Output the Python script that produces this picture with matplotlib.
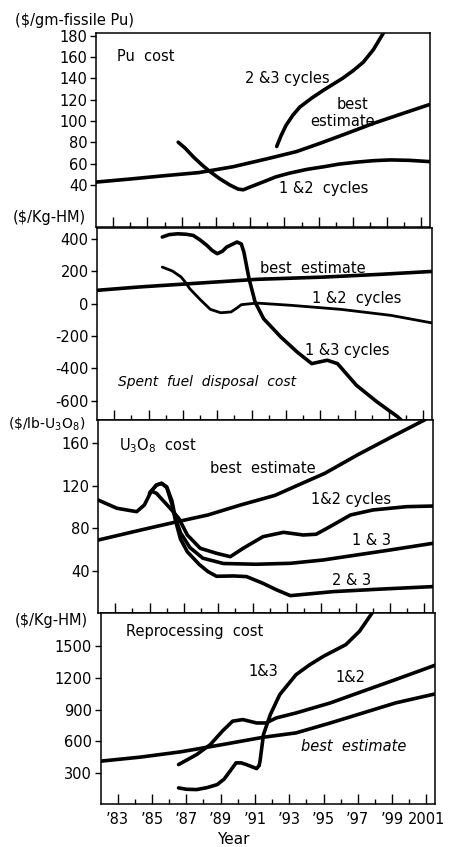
import matplotlib
matplotlib.use("Agg")
import matplotlib.pyplot as plt
import numpy as np

plt.rcParams['font.family'] = ['DejaVu Sans']

# ---------------- data ----------------
# Panel 1: Pu cost ($/gm-fissile Pu)
pu_best_x = [1982, 1984, 1986, 1988, 1990, 1992, 1993.7, 1995, 1996.4, 1998.2, 2000.1, 2001.5]
pu_best_y = [42.6, 45.5, 48.6, 51.5, 57, 64.5, 71.2, 78.5, 86.8, 97.7, 108, 115.5]
pu_12_x = [1986.8, 1987.2, 1987.7, 1988.2, 1988.65, 1989.2, 1989.8, 1990.3, 1990.6, 1991.0, 1991.8,
           1992.5, 1993.3, 1994.3, 1995.3, 1996.2, 1997.2, 1998.2, 1999.2, 2000.3, 2001.5]
pu_12_y = [80, 74.5, 66, 58.5, 52.5, 46, 40, 36, 35.4, 38, 43,
           47.5, 51, 54.5, 57, 59.5, 61.3, 62.7, 63.4, 63, 61.8]
pu_23_x = [1992.55, 1992.8, 1993.1, 1993.5, 1993.9, 1994.6, 1995.3, 1996.4, 1997.0, 1997.6, 1998.2, 1998.8]
pu_23_y = [76, 86, 96, 105.5, 113, 121.5, 129, 140, 147, 155, 167, 183]

# Panel 2: Spent fuel disposal cost ($/Kg-HM)
sf_best_x = [1982, 1984.5, 1987.4, 1991.3, 1995.2, 1998.5, 2001.5]
sf_best_y = [83, 104, 124, 151, 165, 182, 200]
sf_12_x = [1985.8, 1986.4, 1986.9, 1987.15, 1987.4, 1988.05, 1988.6, 1989.2, 1989.8, 1990.1, 1990.4,
           1991.3, 1993.3, 1996.2, 1999.1, 2001.5]
sf_12_y = [227, 202, 165, 132, 93, 21, -35, -56, -51, -30, -6,
           4, -10, -35, -72, -119]
sf_13_x = [1985.8, 1986.2, 1986.7, 1987.2, 1987.6, 1988.0, 1988.4, 1988.7, 1989.0, 1989.3, 1989.55,
           1990.15, 1990.4, 1990.55, 1990.85, 1991.2, 1991.7, 1992.7, 1993.65, 1994.5, 1995.4, 1996.0,
           1997.1, 1998.3, 1999.5, 1999.8]
sf_13_y = [413, 428, 433, 430, 423, 395, 361, 330, 310, 325, 351,
           382, 370, 320, 155, 11, -93, -206, -299, -371, -350, -371,
           -505, -608, -700, -730]

# Panel 3: U3O8 cost ($/lb-U3O8)
u_best_x = [1982, 1984.5, 1986.45, 1988.4, 1990.3, 1992.3, 1993.65, 1995.2, 1997.1, 1999.1, 2001.0, 2001.3]
u_best_y = [69, 78.5, 85.7, 92.6, 102, 111, 120.7, 131.7, 149, 166, 181.8, 186]
u_12_x = [1982, 1983.1, 1984.25, 1984.7, 1985.1, 1985.4, 1986.2, 1986.7, 1987.2, 1987.95, 1988.9,
          1989.7, 1990.45, 1991.6, 1992.8, 1993.95, 1994.7, 1995.5, 1996.7, 1998.0, 1999.95, 2001.5]
u_12_y = [106.7, 98.9, 95.7, 102, 115, 113, 98.9, 89.5, 73.8, 61.3, 56.6,
          53.4, 61.3, 72.2, 76.3, 73.8, 74.5, 81.6, 92.6, 97.3, 100.4, 101]
u_13_x = [1985.0, 1985.4, 1985.7, 1986.0, 1986.3, 1986.5, 1986.8, 1987.35, 1988.1, 1989.3, 1991.2,
          1993.2, 1995.1, 1997.05, 1999.0, 2001.5]
u_13_y = [113, 120.7, 122.3, 119, 106, 90, 76, 62, 52, 47, 46.3,
          47.2, 50.3, 55, 59.7, 66]
u_23_x = [1985.0, 1985.4, 1985.7, 1986.0, 1986.3, 1986.5, 1986.8, 1987.2, 1987.9, 1988.4, 1988.9,
          1989.9, 1990.65, 1991.6, 1992.4, 1993.2, 1995.7, 1998.5, 2001.5]
u_23_y = [113, 120.7, 122.3, 118.5, 103, 88, 70, 58, 46, 39.4, 35,
          35.3, 34.7, 28.4, 22.2, 16.8, 20.6, 23, 25.3]

# Panel 4: Reprocessing cost ($/Kg-HM)
rp_best_x = [1982, 1984.3, 1986.65, 1989.1, 1991.5, 1993.4, 1995.4, 1997.3, 1999.2, 2001.5]
rp_best_y = [411, 449, 499, 568, 638, 679, 773, 868, 963, 1048]
rp_12_x = [1986.55, 1987.6, 1988.4, 1989.1, 1989.7, 1990.3, 1991.1, 1991.65, 1992.25, 1993.4,
           1995.4, 1997.3, 1999.2, 2001.5]
rp_12_y = [379, 473, 568, 695, 790, 805, 773, 773, 821, 868,
           963, 1074, 1184, 1320]
rp_13_x = [1986.55, 1987.0, 1987.6, 1988.2, 1988.8, 1989.2, 1989.55, 1989.9, 1990.2, 1990.5, 1991.1,
           1991.25, 1991.3, 1991.5, 1991.9, 1992.45, 1993.4, 1994.2, 1995.0, 1996.3, 1997.1, 1997.9]
rp_13_y = [158, 145, 142, 160, 189, 240, 316, 395, 395, 379, 341,
           370, 411, 663, 852, 1042, 1231, 1325, 1405, 1515, 1642, 1831]

x_major = [1983, 1985, 1987, 1989, 1991, 1993, 1995, 1997, 1999, 2001]
x_minor = [1984, 1986, 1988, 1990, 1992, 1994, 1996, 1998, 2000]
x_labels = ["’83", "’85", "’87", "’89", "’91", "’93", "’95", "’97", "’99", "2001"]

pu_ticks = [40, 60, 80, 100, 120, 140, 160, 180]
sf_ticks = [400, 200, 0, -200, -400, -600]
u_ticks = [40, 80, 120, 160]
rp_ticks = [300, 600, 900, 1200, 1500]

# ---------------- figure ----------------
W, H = 461, 847
fig = plt.figure(figsize=(W / 100, H / 100), dpi=100)


def add_ax(l, r, t, b):
    return fig.add_axes([l / W, 1 - b / H, (r - l) / W, (b - t) / H])


ax1 = add_ax(96, 430, 33.5, 227.5)
ax2 = add_ax(97, 432, 227.5, 419.5)
ax3 = add_ax(98, 433, 419.5, 613)
ax4 = add_ax(100.5, 435, 613, 803.5)

axes = [ax1, ax2, ax3, ax4]
ylims = [(0, 182), (-717, 472), (0.5, 182.3), (10, 1815)]
yticks = [pu_ticks, sf_ticks, u_ticks, rp_ticks]

for ax, yl, yt in zip(axes, ylims, yticks):
    ax.set_xlim(1982, 2001.5)
    ax.set_ylim(*yl)
    ax.set_xticks(x_major)
    ax.set_xticks(x_minor, minor=True)
    ax.set_yticks(yt)
    ax.set_yticklabels([str(v) for v in yt], fontsize=10.5)
    ax.tick_params(axis='x', which='major', direction='in', length=7.5, width=1.0, pad=6)
    ax.tick_params(axis='x', which='minor', direction='in', length=3.5, width=1.0)
    ax.tick_params(axis='y', which='major', direction='out', length=4.5, width=1.0, pad=1.5)
    for s in ax.spines.values():
        s.set_linewidth(1.1)
    if ax is not ax4:
        ax.set_xticklabels([])

ax4.set_xticklabels(x_labels, fontsize=10.5)

LW = 2.6
kw = dict(color='black', lw=LW, solid_capstyle='round', solid_joinstyle='round')
kw2 = dict(color='black', lw=2.0, solid_capstyle='round', solid_joinstyle='round')

# Panel 1
ax1.plot(pu_best_x, pu_best_y, **kw)
ax1.plot(pu_12_x, pu_12_y, **kw)
ax1.plot(pu_23_x, pu_23_y, **kw)
ax1.text(1983.2, 160, "Pu  cost", fontsize=10.5, va='center', ha='left')
ax1.text(1990.7, 140, "2 &3 cycles", fontsize=10.5, va='center', ha='left')
ax1.text(1997.0, 115, "best", fontsize=10.5, va='center', ha='center')
ax1.text(1996.4, 99, "estimate", fontsize=10.5, va='center', ha='center')
ax1.text(1992.7, 37, "1 &2  cycles", fontsize=10.5, va='center', ha='left')

# Panel 2
ax2.plot(sf_best_x, sf_best_y, **kw)
ax2.plot(sf_12_x, sf_12_y, **kw2)
ax2.plot(sf_13_x, sf_13_y, **kw)
ax2.text(1991.5, 217, "best  estimate", fontsize=10.5, va='center', ha='left')
ax2.text(1994.5, 31, "1 &2  cycles", fontsize=10.5, va='center', ha='left')
ax2.text(1994.1, -288, "1 &3 cycles", fontsize=10.5, va='center', ha='left')
ax2.text(1983.2, -485, "Spent  fuel  disposal  cost", fontsize=10, style='italic',
         va='center', ha='left')

# Panel 3
ax3.plot(u_best_x, u_best_y, **kw)
ax3.plot(u_12_x, u_12_y, **kw)
ax3.plot(u_13_x, u_13_y, **kw)
ax3.plot(u_23_x, u_23_y, **kw)
ax3.text(1983.2, 158, r"U$_3$O$_8$  cost", fontsize=10.5, va='center', ha='left')
ax3.text(1988.5, 136.4, "best  estimate", fontsize=10.5, va='center', ha='left')
ax3.text(1994.4, 106.7, "1&2 cycles", fontsize=10.5, va='center', ha='left')
ax3.text(1996.8, 69, "1 & 3", fontsize=10.5, va='center', ha='left')
ax3.text(1995.6, 31.5, "2 & 3", fontsize=10.5, va='center', ha='left')

# Panel 4
ax4.plot(rp_best_x, rp_best_y, **kw)
ax4.plot(rp_12_x, rp_12_y, **kw)
ax4.plot(rp_13_x, rp_13_y, **kw)
ax4.text(1983.5, 1642, "Reprocessing  cost", fontsize=10.5, va='center', ha='left')
ax4.text(1990.6, 1263, "1&3", fontsize=10.5, va='center', ha='left')
ax4.text(1995.7, 1200, "1&2", fontsize=10.5, va='center', ha='left')
ax4.text(1993.7, 553, "best  estimate", fontsize=10.5, style='italic', va='center', ha='left')

# Unit labels
fig.text(15 / W, 1 - 21 / H, "(\\$/gm-fissile Pu)", fontsize=10.5, va='center', ha='left')
fig.text(13 / W, 1 - 217 / H, "(\\$/Kg-HM)", fontsize=10.5, va='center', ha='left')
fig.text(8 / W, 1 - 424 / H, r"(\$/lb-U$_3$O$_8$)", fontsize=10, va='center', ha='left')
fig.text(15 / W, 1 - 620 / H, "(\\$/Kg-HM)", fontsize=10.5, va='center', ha='left')

fig.text(233 / W, 1 - 839 / H, "Year", fontsize=11, va='center', ha='center')

fig.savefig("out.png", dpi=100, facecolor='white')
